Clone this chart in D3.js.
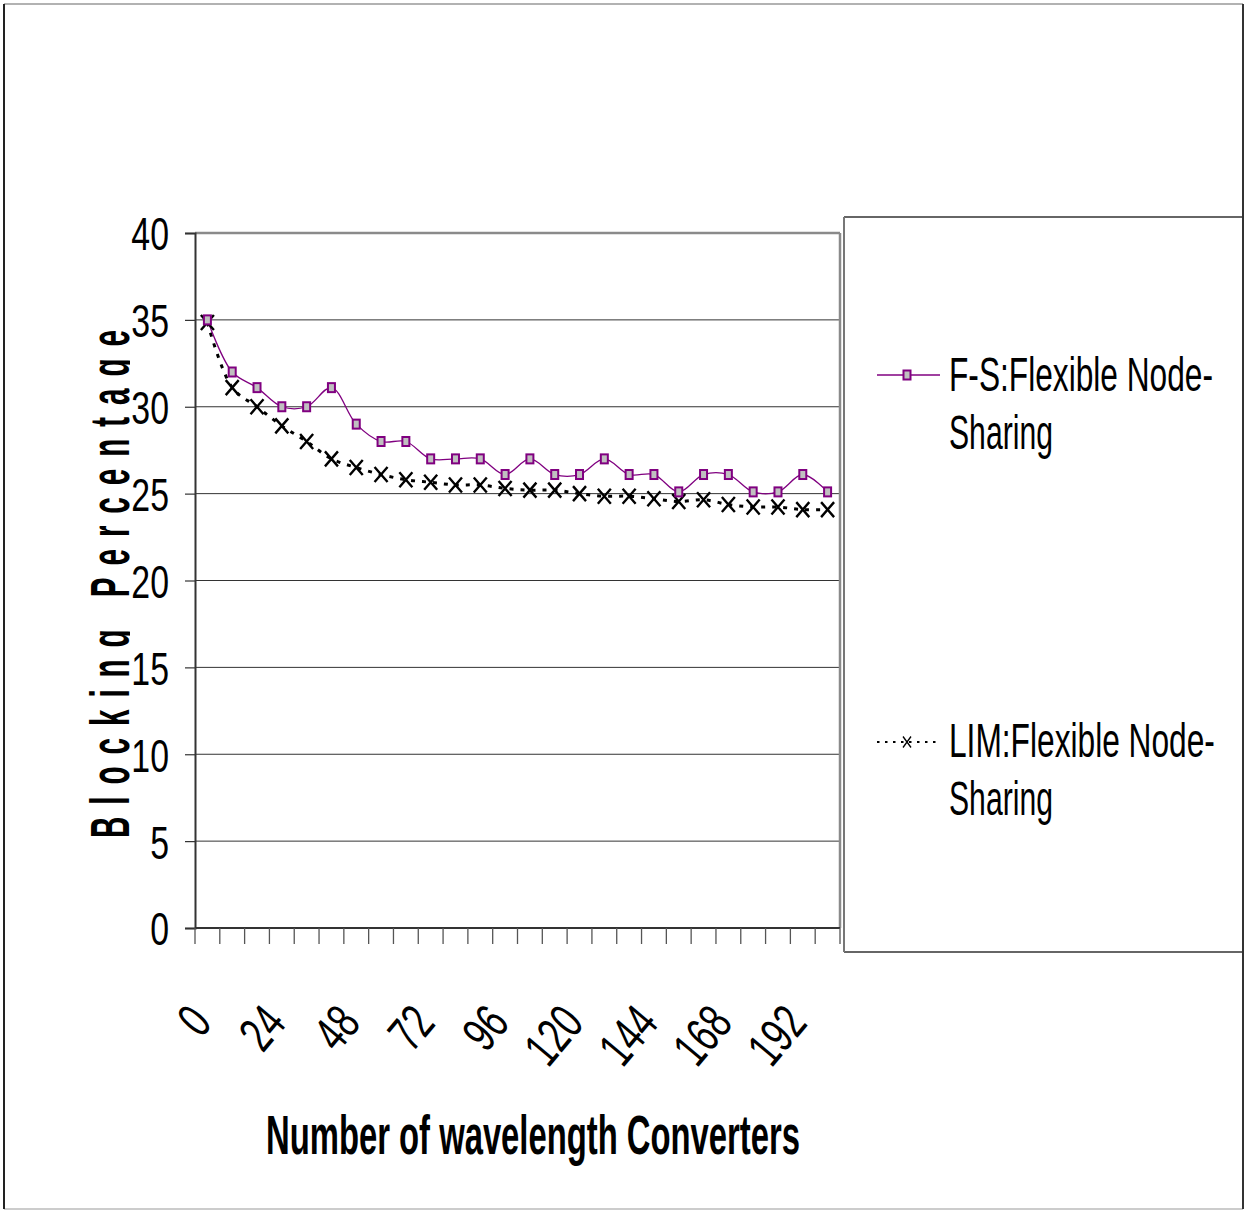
<!DOCTYPE html>
<html>
<head>
<meta charset="utf-8">
<script src="https://cdn.jsdelivr.net/npm/d3@7/dist/d3.min.js"></script>
<style>
  html, body { margin: 0; padding: 0; background: #fff; }
  svg { display: block; }
  text { font-family: "Liberation Sans", Arial, sans-serif; fill: #000; }
</style>
</head>
<body>
<svg id="chart" width="1244" height="1210"></svg>
<script>
// ---- data ----
const categories = [0, 8, 16, 24, 32, 40, 48, 56, 64, 72, 80, 88, 96, 104, 112, 120, 128, 136, 144, 152, 160, 168, 176, 184, 192, 200];
const tickLabels = ["0", "24", "48", "72", "96", "120", "144", "168", "192"];
const fsValues  = [35, 32, 31.1, 30, 30, 31.1, 29, 28, 28, 27, 27, 27, 26.1, 27, 26.1, 26.1, 27, 26.1, 26.1, 25.1, 26.1, 26.1, 25.1, 25.1, 26.1, 25.1];
const limValues = [34.85, 31.1, 30.0, 28.9, 28.0, 27.0, 26.5, 26.1, 25.8, 25.65, 25.5, 25.5, 25.3, 25.2, 25.2, 25.0, 24.85, 24.85, 24.7, 24.55, 24.65, 24.37, 24.23, 24.23, 24.08, 24.08];
const yTicks = [0, 5, 10, 15, 20, 25, 30, 35, 40];
const legendLines = [["F-S:Flexible Node-", "Sharing"], ["LIM:Flexible Node-", "Sharing"]];

const svg = d3.select("#chart");

// ---- layout ----
const plot = { left: 195, right: 840, top: 233, bottom: 928 };

const x = d3.scaleBand().domain(categories).range([plot.left, plot.right]).padding(0);
const y = d3.scaleLinear().domain([0, 40]).range([plot.bottom, plot.top]);

// horizontally condense a text element by a transform around its anchor
function condenseTo(textSel, px, py, targetWidth, extra) {
  const node = textSel.node();
  const L = node.getComputedTextLength();
  const f = targetWidth / L;
  textSel.attr("x", 0).attr("y", 0)
    .attr("transform", `translate(${px},${py}) ${extra || ""} scale(${f},1)`);
}

// outer frame
svg.append("line").attr("x1", 4).attr("y1", 4).attr("x2", 1243).attr("y2", 4).attr("stroke", "#999").attr("stroke-width", 1.5);
svg.append("line").attr("x1", 4).attr("y1", 1209).attr("x2", 1243).attr("y2", 1209).attr("stroke", "#bbb").attr("stroke-width", 1.5);
svg.append("line").attr("x1", 4).attr("y1", 4).attr("x2", 4).attr("y2", 1209).attr("stroke", "#222").attr("stroke-width", 2);
svg.append("line").attr("x1", 1243).attr("y1", 4).attr("x2", 1243).attr("y2", 1209).attr("stroke", "#333").attr("stroke-width", 2);

// gridlines
svg.append("g").selectAll("line").data(yTicks.filter(d => d > 0 && d < 40)).join("line")
  .attr("x1", plot.left).attr("x2", plot.right)
  .attr("y1", d => y(d)).attr("y2", d => y(d))
  .attr("stroke", "#333").attr("stroke-width", 1);

// plot area border (top and right)
svg.append("line").attr("x1", plot.left).attr("x2", plot.right).attr("y1", plot.top).attr("y2", plot.top)
  .attr("stroke", "#8a8a8a").attr("stroke-width", 2.5);
svg.append("line").attr("x1", plot.right).attr("x2", plot.right).attr("y1", plot.top).attr("y2", plot.bottom)
  .attr("stroke", "#8a8a8a").attr("stroke-width", 2.5);

// y axis
const yAxis = svg.append("g").attr("transform", `translate(${plot.left},0)`)
  .call(d3.axisLeft(y).tickValues(yTicks).tickSize(10).tickPadding(16).tickFormat(d3.format("d")));
yAxis.select(".domain").attr("stroke", "#333").attr("stroke-width", 2);
yAxis.selectAll(".tick line").attr("stroke", "#333").attr("stroke-width", 1.2);
yAxis.selectAll(".tick text").attr("font-size", 47).attr("font-family", "Liberation Sans, Arial, sans-serif").attr("dy", "0.36em")
  .each(function () {
    const L = this.getComputedTextLength();
    this.setAttribute("textLength", L * 0.72);
    this.setAttribute("lengthAdjust", "spacingAndGlyphs");
  });

// x axis line
svg.append("line").attr("x1", plot.left).attr("x2", plot.right).attr("y1", plot.bottom).attr("y2", plot.bottom)
  .attr("stroke", "#333").attr("stroke-width", 2);
// x boundary ticks
const boundaries = categories.map(c => x(c)).concat([x(categories[categories.length - 1]) + x.bandwidth()]);
svg.append("g").selectAll("line").data(boundaries).join("line")
  .attr("x1", d => d).attr("x2", d => d).attr("y1", plot.bottom).attr("y2", plot.bottom + 16)
  .attr("stroke", "#555").attr("stroke-width", 1.3);

// x tick labels
const xAxis = svg.append("g").attr("transform", `translate(0,${plot.bottom})`)
  .call(d3.axisBottom(x).tickValues(categories.filter(c => tickLabels.includes(String(c)))).tickSize(0).tickFormat(d => String(d)));
xAxis.select(".domain").remove();
xAxis.selectAll(".tick text")
  .attr("font-size", 50)
  .attr("text-anchor", "end")
  .attr("dy", 0).attr("y", 0).attr("x", 0)
  .attr("transform", "translate(6,96) rotate(-50) scale(0.7,1)");

// axis titles
svg.append("defs").append("clipPath").attr("id", "ytclip")
  .append("rect").attr("x", 0).attr("y", 0).attr("width", 130).attr("height", 1210);
svg.append("g").attr("clip-path", "url(#ytclip)")
  .append("text")
  .attr("transform", "translate(129,584) rotate(-90) scale(0.53,1)")
  .attr("text-anchor", "middle")
  .attr("font-weight", "bold").attr("font-size", 56)
  .attr("textLength", 508 / 0.53).attr("lengthAdjust", "spacing")
  .text("Blocking Percentage");

const xt = svg.append("text")
  .attr("text-anchor", "middle")
  .attr("font-weight", "bold").attr("font-size", 55)
  .text("Number of wavelength Converters");
condenseTo(xt, 533, 1154, 534);

// lines
const curve = d3.curveCatmullRom.alpha(0.5);
const cx = (d, i) => x(categories[i]) + x.bandwidth() / 2;

svg.append("path").datum(limValues)
  .attr("d", d3.line().x(cx).y(d => y(d)).curve(curve))
  .attr("fill", "none").attr("stroke", "#000").attr("stroke-width", 3).attr("stroke-dasharray", "4,7");

svg.append("path").datum(fsValues)
  .attr("d", d3.line().x(cx).y(d => y(d)).curve(curve))
  .attr("fill", "none").attr("stroke", "#800080").attr("stroke-width", 1.3);

// markers
function xMarker(g, px, py, w, h, sw) {
  g.append("path").attr("d", `M${px - w / 2},${py - h / 2}L${px + w / 2},${py + h / 2}M${px + w / 2},${py - h / 2}L${px - w / 2},${py + h / 2}`)
    .attr("stroke", "#000").attr("stroke-width", sw).attr("fill", "none");
}
const limG = svg.append("g");
limValues.forEach((d, i) => xMarker(limG, cx(d, i), y(d), 13, 15, 2.4));

svg.append("g").selectAll("rect").data(fsValues).join("rect")
  .attr("x", (d, i) => cx(d, i) - 3.5).attr("y", d => y(d) - 4.5)
  .attr("width", 7).attr("height", 9)
  .attr("fill", "#c0c0c0").attr("stroke", "#800080").attr("stroke-width", 2);

// legend box
svg.append("line").attr("x1", 844).attr("x2", 1243).attr("y1", 217).attr("y2", 217).attr("stroke", "#333").attr("stroke-width", 1.5);
svg.append("line").attr("x1", 844).attr("x2", 1243).attr("y1", 952).attr("y2", 952).attr("stroke", "#333").attr("stroke-width", 1.5);
svg.append("line").attr("x1", 844).attr("x2", 844).attr("y1", 217).attr("y2", 952).attr("stroke", "#777").attr("stroke-width", 2);

// legend item 1
svg.append("line").attr("x1", 877).attr("x2", 940).attr("y1", 375).attr("y2", 375).attr("stroke", "#800080").attr("stroke-width", 1.3);
svg.append("rect").attr("x", 907 - 3.5).attr("y", 375 - 4.5).attr("width", 7).attr("height", 9)
  .attr("fill", "#c0c0c0").attr("stroke", "#800080").attr("stroke-width", 2);
const l1a = svg.append("text").attr("font-size", 49).text(legendLines[0][0]);
const l1b = svg.append("text").attr("font-size", 49).text(legendLines[0][1]);
condenseTo(l1a, 949, 391, 264);
condenseTo(l1b, 949, 449, 104);

// legend item 2
svg.append("line").attr("x1", 877).attr("x2", 940).attr("y1", 742).attr("y2", 742).attr("stroke", "#000").attr("stroke-width", 2).attr("stroke-dasharray", "2.5,5.5");
xMarker(svg, 907, 742, 8, 11, 1.3);
const l2a = svg.append("text").attr("font-size", 49).text(legendLines[1][0]);
const l2b = svg.append("text").attr("font-size", 49).text(legendLines[1][1]);
condenseTo(l2a, 949, 757, 266);
condenseTo(l2b, 949, 815, 104);
</script>
</body>
</html>
